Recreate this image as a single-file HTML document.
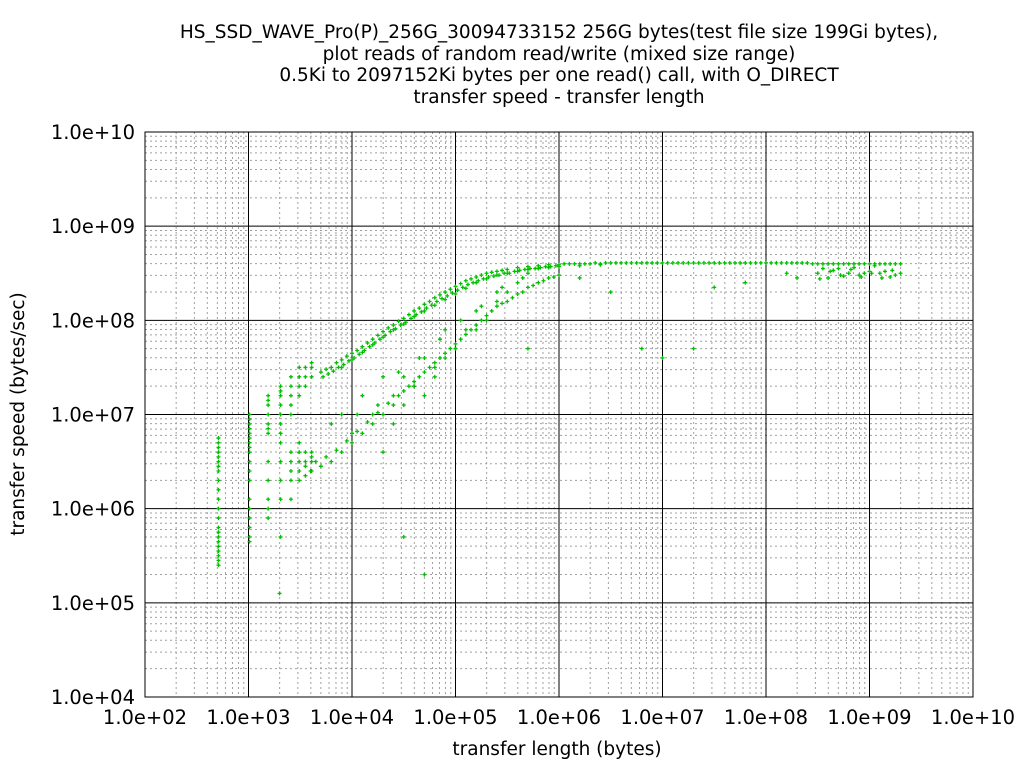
<!DOCTYPE html>
<html><head><meta charset="utf-8"><style>
body{margin:0;background:#fff;font-family:"Liberation Sans","DejaVu Sans",sans-serif}
svg text{font-family:"DejaVu Sans","Liberation Sans",sans-serif;fill:#000}
.t{font-size:18.5px}
.k{font-size:19.5px}
</style></head><body>
<svg id="c" width="1024" height="768">
<g text-anchor="middle" class="t">
<text x="559" y="38">HS_SSD_WAVE_Pro(P)_256G_30094733152 256G bytes(test file size 199Gi bytes),</text>
<text x="559" y="60">plot reads of random read/write (mixed size range)</text>
<text x="559" y="81">0.5Ki to 2097152Ki bytes per one read() call, with O_DIRECT</text>
<text x="559" y="103">transfer speed - transfer length</text>
</g>
<text class="t" x="557" y="755" text-anchor="middle">transfer length (bytes)</text>
<text class="t" transform="translate(24,414) rotate(-90)" text-anchor="middle">transfer speed (bytes/sec)</text>
<g id="grid"></g>
<g id="ticks" class="k"></g>
<g id="pts"></g>
<rect x="145" y="132" width="828" height="565" fill="none" stroke="#000"/>
</svg>
<script>
const xTickLabels=["1.0e+02","1.0e+03","1.0e+04","1.0e+05","1.0e+06","1.0e+07","1.0e+08","1.0e+09","1.0e+10"];
const yTickLabels=["1.0e+04","1.0e+05","1.0e+06","1.0e+07","1.0e+08","1.0e+09","1.0e+10"];
// log10(bytes), log10(bytes/sec)
const lenLog=[
2.71,2.71,2.71,2.71,2.71,2.71,2.71,2.71,2.71,2.71,2.71,2.71,2.71,2.71,2.71,2.71,2.71,2.71,2.71,2.71,2.71,2.71,
3.01,3.01,3.01,3.01,3.01,3.01,3.01,3.01,3.01,3.01,3.01,3.01,3.01,3.01,3.01,3.01,3.01,3.01,
3.19,3.19,3.19,3.19,3.19,3.19,3.19,3.19,3.19,3.19,3.19,3.19,
3.31,3.31,3.31,3.31,3.31,3.31,3.31,3.31,3.31,3.31,3.31,3.31,
3.41,3.41,3.41,3.41,3.41,3.41,3.41,3.41,3.41,3.41,
3.49,3.49,3.49,3.49,3.49,3.49,3.49,3.49,3.49,
3.55,3.55,3.55,3.55,3.55,3.55,3.55,
3.61,3.61,3.61,3.61,3.61,3.61,3.61,
3.7,3.75,3.8,3.85,3.9,3.95,4.0,4.05,4.1,4.15,4.2,4.25,4.3,4.35,4.4,4.45,4.5,4.55,4.6,4.65,4.7,4.75,4.8,4.85,4.9,4.95,5.0,5.05,5.1,5.15,5.2,5.25,5.3,5.35,5.4,5.45,5.5,5.6,5.7,5.8,5.9,6.0,6.1,6.2,6.3,6.4,6.5,6.6,6.7,6.8,6.9,7.0,7.1,7.2,7.3,7.4,7.5,7.6,7.7,7.8,7.9,8.0,8.1,8.2,8.3,8.4,8.5,8.6,8.7,8.8,8.9,9.0,9.1,9.2,9.3,
3.72,3.77,3.82,3.87,3.92,3.97,4.02,4.07,4.12,4.17,4.22,4.27,4.32,4.37,4.42,4.47,4.52,4.57,4.62,4.67,4.72,4.77,4.82,4.87,4.92,4.97,5.02,5.07,5.12,5.17,5.22,5.27,5.32,5.37,5.42,5.47,5.52,5.57,5.62,5.67,5.72,5.77,5.82,5.87,5.92,5.97,
6.05,6.15,6.25,6.35,6.45,6.55,6.65,6.75,6.85,6.95,7.05,7.15,7.25,7.35,7.45,7.55,7.65,7.75,7.85,7.95,8.05,8.15,8.25,8.35,8.45,8.55,8.65,8.75,8.85,8.95,9.05,9.15,9.25,
3.9,4.0,4.1,4.2,4.3,4.4,4.5,4.6,4.7,4.8,4.9,5.0,5.1,5.2,5.3,5.4,5.5,5.6,5.7,5.8,5.9,6.0,6.2,6.4,
3.6,3.7,3.8,3.9,4.0,4.1,4.2,4.3,4.4,4.5,4.6,4.7,4.8,4.9,5.0,5.1,5.2,5.3,5.4,5.5,5.6,5.7,5.8,5.9,6.0,
3.65,3.75,3.85,3.95,4.05,4.15,4.25,4.35,4.45,4.55,4.65,4.75,4.85,4.95,5.05,5.15,5.25,5.35,5.45,5.55,5.65,5.75,5.85,5.95,
3.8,3.9,4.0,4.1,4.2,4.3,4.4,4.5,4.6,4.7,4.8,4.9,5.0,5.1,5.2,5.3,5.4,5.5,5.6,5.7,
4.3,4.4,4.5,4.6,4.7,4.8,4.9,5.0,5.2,5.4,4.05,4.25,4.45,4.65,4.85,5.05,5.25,5.45,5.65,
8.5,8.6,8.7,8.8,8.9,9.0,9.1,9.2,9.3,8.55,8.65,8.75,8.85,8.95,9.05,9.15,9.25,8.3,8.2,8.52,8.62,8.72,8.82,8.92,9.02,9.12,9.22,
5.7,6.8,7.0,7.3,4.5,3.3,4.7,6.5,7.5,7.8,6.2];
const speedLog=[
5.4,5.45,5.5,5.55,5.6,5.65,5.7,5.75,5.8,5.9,6.0,6.1,6.2,6.3,6.4,6.45,6.5,6.55,6.6,6.65,6.7,6.75,
5.65,5.7,5.8,5.9,6.0,6.1,6.3,6.5,6.6,6.65,6.7,6.75,6.8,6.85,6.9,6.95,7.0,6.4,
5.9,6.0,6.1,6.3,6.5,6.8,6.85,6.9,7.0,7.1,7.15,7.2,
5.7,6.1,6.3,6.5,6.7,6.9,7.0,7.1,7.2,7.25,7.3,6.8,
6.1,6.3,6.4,6.6,7.0,7.1,7.2,7.3,7.4,6.5,
6.3,6.4,6.5,6.7,7.2,7.3,7.4,7.5,6.6,
6.35,6.5,6.6,7.3,7.4,7.5,6.45,
6.4,6.5,6.6,7.4,7.5,7.55,6.55,
7.45,7.48,7.5,7.55,7.58,7.62,7.65,7.68,7.72,7.76,7.8,7.84,7.88,7.92,7.95,7.99,8.02,8.06,8.1,8.13,8.17,8.2,8.24,8.27,8.3,8.33,8.36,8.39,8.42,8.44,8.46,8.48,8.5,8.51,8.52,8.53,8.54,8.56,8.57,8.58,8.59,8.59,8.6,8.6,8.6,8.6,8.61,8.61,8.61,8.61,8.61,8.61,8.61,8.61,8.61,8.61,8.61,8.61,8.61,8.61,8.61,8.61,8.61,8.61,8.61,8.61,8.6,8.6,8.6,8.6,8.6,8.6,8.6,8.6,8.6,
7.40,7.43,7.46,7.5,7.53,7.57,7.6,7.64,7.68,7.72,7.76,7.8,7.84,7.88,7.91,7.95,7.98,8.02,8.06,8.09,8.13,8.16,8.2,8.23,8.26,8.29,8.32,8.35,8.38,8.4,8.42,8.44,8.46,8.47,8.48,8.5,8.5,8.52,8.53,8.54,8.55,8.55,8.56,8.57,8.57,8.58,
8.6,8.6,8.6,8.61,8.61,8.61,8.61,8.61,8.61,8.61,8.61,8.61,8.61,8.61,8.61,8.61,8.61,8.61,8.61,8.61,8.61,8.61,8.61,8.61,8.6,8.6,8.6,8.6,8.6,8.6,8.6,8.6,8.6,
7.5,7.58,7.66,7.74,7.82,7.9,7.96,8.04,8.1,8.16,8.22,8.28,8.34,8.4,8.44,8.48,8.5,8.52,8.54,8.55,8.56,8.57,8.58,8.59,
6.4,6.45,6.5,6.6,6.7,6.8,6.9,7.0,7.1,7.25,7.35,7.45,7.55,7.65,7.75,7.85,7.95,8.05,8.15,8.2,8.28,8.35,8.4,8.45,8.48,
6.5,6.55,6.62,6.72,6.82,6.92,7.02,7.12,7.2,7.3,7.4,7.5,7.6,7.7,7.8,7.9,8.0,8.1,8.18,8.24,8.3,8.37,8.42,8.46,
6.9,7.0,6.8,7.2,7.0,7.4,7.2,7.1,7.3,7.6,7.4,7.9,7.7,7.9,8.1,8.0,8.3,8.3,8.4,8.5,
6.6,6.9,7.4,7.3,7.2,7.5,7.6,7.7,7.9,8.2,7.0,7.1,7.45,7.6,7.8,8.0,8.15,8.35,8.45,
8.5,8.45,8.55,8.5,8.48,8.52,8.5,8.46,8.5,8.55,8.53,8.47,8.56,8.5,8.58,8.52,8.48,8.45,8.5,8.44,8.52,8.48,8.54,8.46,8.5,8.45,8.53,
7.7,7.7,7.6,7.7,5.7,5.1,5.3,8.3,8.35,8.4,8.45];
const X0=145,X1=973,Y0=697,Y1=132;
const xs=v=>X0+(v-2)/8*(X1-X0), ys=v=>Y0-(v-4)/6*(Y0-Y1);
const NS="http://www.w3.org/2000/svg";
const grid=document.getElementById('grid'),ticks=document.getElementById('ticks'),pts=document.getElementById('pts');
function ln(x1,y1,x2,y2,st,dash,name){const l=document.createElementNS(NS,'line');
l.setAttribute('x1',x1);l.setAttribute('y1',y1);l.setAttribute('x2',x2);l.setAttribute('y2',y2);
l.setAttribute('stroke',st);l.setAttribute('stroke-width',1);if(dash)l.setAttribute('stroke-dasharray',dash);


grid.appendChild(l);}
for(let d=2;d<10;d++)for(let m=2;m<10;m++){const x=xs(d+Math.log10(m));ln(x,Y1,x,Y0,'#a0a0a0','2,3','x-minor-grid');}
for(let d=4;d<10;d++)for(let m=2;m<10;m++){const y=ys(d+Math.log10(m));ln(X0,y,X1,y,'#a0a0a0','2,3','y-minor-grid');}
xTickLabels.forEach((t,i)=>{const x=xs(2+i);ln(x,Y1,x,Y0,'#000',null,'x-major-grid');
const e=document.createElementNS(NS,'text');e.setAttribute('x',x);e.setAttribute('y',724);e.setAttribute('text-anchor','middle');e.textContent=t;


ticks.appendChild(e);});
yTickLabels.forEach((t,i)=>{const y=ys(4+i);ln(X0,y,X1,y,'#000',null,'y-major-grid');
const e=document.createElementNS(NS,'text');e.setAttribute('x',135);e.setAttribute('y',y+7);e.setAttribute('text-anchor','end');e.textContent=t;


ticks.appendChild(e);});
lenLog.forEach((v,i)=>{const x=xs(v),y=ys(speedLog[i]);
const p=document.createElementNS(NS,'path');
p.setAttribute('d',`M${x-2},${y}h4M${x},${y-2}v4`);
p.setAttribute('stroke','#00c000');p.setAttribute('stroke-width',1.3);


pts.appendChild(p);});
</script>
</body></html>
